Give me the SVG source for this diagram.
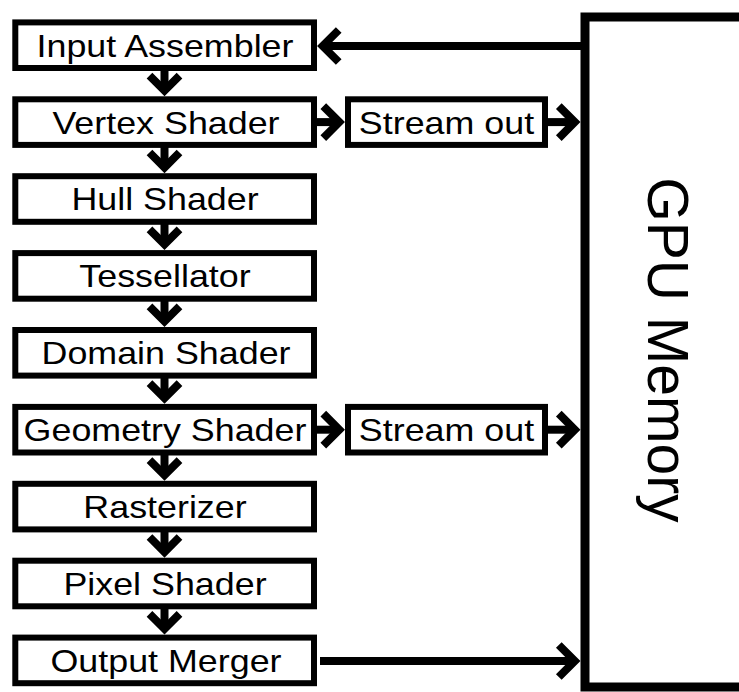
<svg xmlns="http://www.w3.org/2000/svg" width="739" height="692" viewBox="0 0 739 692">
<style>
.box{fill:#fff;stroke:#000;stroke-width:6}
.mem{fill:#fff;stroke:#000;stroke-width:9}
.lbl{font-family:"Liberation Sans",Arial,Helvetica,sans-serif;font-size:32px;fill:#000;text-anchor:middle}
.big{font-family:"Liberation Sans",Arial,Helvetica,sans-serif;font-size:57px;fill:#000;text-anchor:middle}
.shaft{stroke:#000;stroke-width:8;fill:none}
.shaft2{stroke:#000;stroke-width:8;fill:none}
.head{stroke:#000;stroke-width:8;fill:none;stroke-linejoin:miter;stroke-miterlimit:10;stroke-linecap:butt}
</style>
<defs>
<path id="hd" class="head" d="M-15,-15 L0,0 L15,-15"/>
<path id="hr" class="head" d="M-16,-16 L0,0 L-16,16"/>
<path id="hl" class="head" d="M16,-16 L0,0 L16,16"/>
</defs>
<rect width="739" height="692" fill="#fff"/>
<g id="gpu-memory">
<rect class="mem" x="585" y="17" width="200" height="670"/>
<text class="big" transform="translate(648,350) rotate(90)">GPU Memory</text>
</g>
<g id="input-assembler"><rect class="box" x="15.3" y="22.4" width="298.7" height="45.6"/><text class="lbl" transform="translate(165,56.6) scale(1.12,1)">Input Assembler</text></g>
<g id="vertex-shader"><rect class="box" x="15.3" y="99.3" width="298.7" height="45.6"/><text class="lbl" transform="translate(166,133.5) scale(1.12,1)">Vertex Shader</text></g>
<g id="hull-shader"><rect class="box" x="15.3" y="176.2" width="298.7" height="45.6"/><text class="lbl" transform="translate(165,210.4) scale(1.12,1)">Hull Shader</text></g>
<g id="tessellator"><rect class="box" x="15.3" y="253.1" width="298.7" height="45.6"/><text class="lbl" transform="translate(165,287.3) scale(1.12,1)">Tessellator</text></g>
<g id="domain-shader"><rect class="box" x="15.3" y="330" width="298.7" height="45.6"/><text class="lbl" transform="translate(166,364.2) scale(1.12,1)">Domain Shader</text></g>
<g id="geometry-shader"><rect class="box" x="15.3" y="406.9" width="298.7" height="45.6"/><text class="lbl" transform="translate(165,441.1) scale(1.12,1)">Geometry Shader</text></g>
<g id="rasterizer"><rect class="box" x="15.3" y="483.8" width="298.7" height="45.6"/><text class="lbl" transform="translate(165,518) scale(1.12,1)">Rasterizer</text></g>
<g id="pixel-shader"><rect class="box" x="15.3" y="560.7" width="298.7" height="45.6"/><text class="lbl" transform="translate(165,594.9) scale(1.12,1)">Pixel Shader</text></g>
<g id="output-merger"><rect class="box" x="15.3" y="637.6" width="298.7" height="45.6"/><text class="lbl" transform="translate(166,671.8) scale(1.12,1)">Output Merger</text></g>
<g id="stream-out-1"><rect class="box" x="348" y="99.3" width="197" height="45.6"/><text class="lbl" transform="translate(446.5,133.5) scale(1.12,1)">Stream out</text></g>
<g id="stream-out-2"><rect class="box" x="348" y="406.9" width="197" height="45.6"/><text class="lbl" transform="translate(446.5,441.1) scale(1.12,1)">Stream out</text></g>
<g id="connectors">
<line class="shaft" x1="164.5" y1="68" x2="164.5" y2="91"/><use href="#hd" x="164.5" y="90.6"/>
<line class="shaft" x1="164.5" y1="145" x2="164.5" y2="168"/><use href="#hd" x="164.5" y="167.5"/>
<line class="shaft" x1="164.5" y1="222" x2="164.5" y2="245"/><use href="#hd" x="164.5" y="244.4"/>
<line class="shaft" x1="164.5" y1="299" x2="164.5" y2="322"/><use href="#hd" x="164.5" y="321.3"/>
<line class="shaft" x1="164.5" y1="376" x2="164.5" y2="399"/><use href="#hd" x="164.5" y="398.2"/>
<line class="shaft" x1="164.5" y1="453" x2="164.5" y2="476"/><use href="#hd" x="164.5" y="475.1"/>
<line class="shaft" x1="164.5" y1="530" x2="164.5" y2="553"/><use href="#hd" x="164.5" y="552"/>
<line class="shaft" x1="164.5" y1="607" x2="164.5" y2="630"/><use href="#hd" x="164.5" y="628.9"/>
<line class="shaft2" x1="581" y1="46" x2="323" y2="46"/><use href="#hl" x="322.7" y="46"/>
<line class="shaft2" x1="317" y1="122.1" x2="339" y2="122.1"/><use href="#hr" x="339.3" y="122.1"/>
<line class="shaft2" x1="548" y1="122.1" x2="575" y2="122.1"/><use href="#hr" x="574.8" y="122.1"/>
<line class="shaft2" x1="317" y1="429.7" x2="339" y2="429.7"/><use href="#hr" x="339.3" y="429.7"/>
<line class="shaft2" x1="548" y1="429.7" x2="575" y2="429.7"/><use href="#hr" x="574.8" y="429.7"/>
<line class="shaft2" x1="320" y1="661" x2="575" y2="661"/><use href="#hr" x="574.8" y="661"/>
</g>
</svg>
